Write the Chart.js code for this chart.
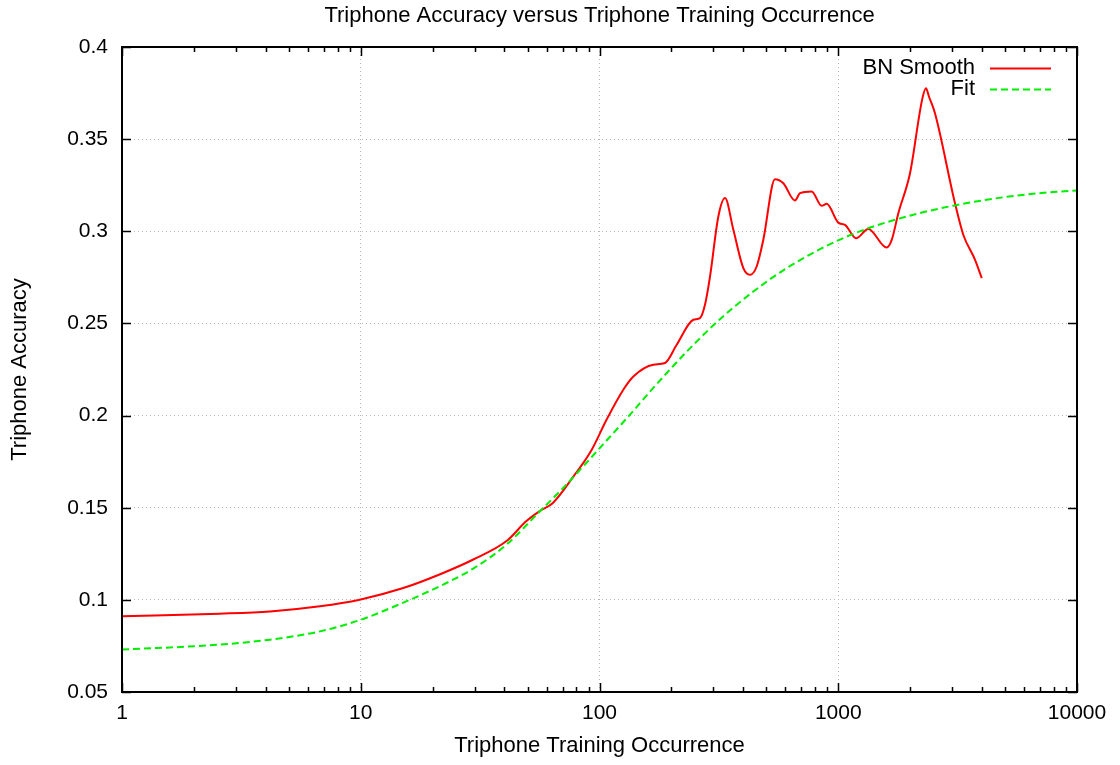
<!DOCTYPE html>
<html>
<head>
<meta charset="utf-8">
<script src="https://cdn.jsdelivr.net/npm/chart.js@4.4.1/dist/chart.umd.min.js"></script>
<style>
  html, body { margin: 0; padding: 0; background: #fff; }
  #wrap { width: 1120px; height: 765px; }
</style>
</head>
<body>
<div id="wrap"><canvas id="chart" width="1120" height="765"></canvas></div>
<script>
// Smoothed accuracy by training occurrence count
const smoothX = [1, 2.57, 4.17, 6.75, 9.9, 15.07, 21.5, 29.6, 40.8, 49.3, 56.3, 63.8, 77.8, 92.8, 107, 125.8, 138.6, 168.1, 188, 210.5, 247.2, 263.6, 276.6, 290.3, 314.6, 335.6, 363.6, 400.4, 426.9, 455.3, 485.3, 543.3, 588.8, 658.9, 691.4, 773.8, 852.1, 894.3, 1000, 1067, 1187, 1336, 1595, 1675, 1785, 1998, 2250, 2331, 2400, 2542, 3083, 3342, 3741, 3990];
const smoothY = [0.0911, 0.0925, 0.0937, 0.0965, 0.1001, 0.1064, 0.1139, 0.1219, 0.1319, 0.1426, 0.1482, 0.1526, 0.167, 0.1815, 0.1977, 0.214, 0.2212, 0.2276, 0.2285, 0.2384, 0.2520, 0.2529, 0.2601, 0.2754, 0.308, 0.318, 0.3008, 0.280, 0.2764, 0.2809, 0.2953, 0.3283, 0.3261, 0.3167, 0.3207, 0.3216, 0.3138, 0.3149, 0.3047, 0.3035, 0.2962, 0.3013, 0.2912, 0.2953, 0.3098, 0.3315, 0.372, 0.3776, 0.373, 0.364, 0.3152, 0.298, 0.2845, 0.2746];

// Fitted curve
const fitX = [1, 2.57, 4.17, 6.75, 9.9, 15.07, 21.5, 29.6, 40.8, 56.3, 68.3, 82.8, 99.8, 130, 168, 197.4, 231.9, 319.6, 440.9, 608, 838.8, 1156, 1595, 2200, 3034, 4184, 5768, 7957, 10000];
const fitY = [0.0730, 0.0757, 0.0784, 0.0829, 0.0890, 0.0985, 0.1075, 0.1170, 0.1300, 0.1481, 0.1589, 0.1705, 0.1821, 0.1985, 0.2150, 0.2250, 0.2347, 0.2523, 0.2673, 0.2800, 0.2903, 0.2986, 0.3049, 0.3099, 0.3139, 0.3171, 0.3196, 0.3213, 0.3222];

const xTicks = [1, 10, 100, 1000, 10000];
const yMin = 0.05, yMax = 0.4, yStep = 0.05;

const titleText = "Triphone Accuracy versus Triphone Training Occurrence";
const xTitle = "Triphone Training Occurrence";
const yTitle = "Triphone Accuracy";
const seriesNames = ["BN Smooth", "Fit"];

const FONT = "'Liberation Sans', Arial, Helvetica, sans-serif";
Chart.defaults.font.family = FONT;
Chart.defaults.font.size = 21;
Chart.defaults.color = "#000";

const toPoints = (xs, ys) => xs.map((x, i) => ({ x, y: ys[i] }));

// frame with inward ticks on all four sides (minor ticks only along x)
const framePlugin = {
  id: "frame",
  afterDatasetsDraw(chart) {
    const { ctx, chartArea: a, scales: { x, y } } = chart;
    ctx.save();
    ctx.strokeStyle = "#000";
    ctx.lineWidth = 1.5;
    ctx.beginPath();
    for (let d = 1; d < 10000; d *= 10) {
      for (let m = 1; m <= 10; m++) {
        const px = Math.round(x.getPixelForValue(d * m)) + 0.5;
        const len = (m === 1 || m === 10) ? 9 : 5;
        ctx.moveTo(px, a.bottom); ctx.lineTo(px, a.bottom - len);
        ctx.moveTo(px, a.top); ctx.lineTo(px, a.top + len);
      }
    }
    for (let v = yMin; v <= yMax + 1e-9; v += yStep) {
      const py = Math.round(y.getPixelForValue(v)) + 0.5;
      ctx.moveTo(a.left, py); ctx.lineTo(a.left + 9, py);
      ctx.moveTo(a.right, py); ctx.lineTo(a.right - 9, py);
    }
    ctx.stroke();
    ctx.lineWidth = 2;
    ctx.strokeRect(a.left, a.top, a.right - a.left, a.bottom - a.top);

    // key in the upper right corner
    ctx.font = "22px " + FONT;
    ctx.textAlign = "right";
    ctx.textBaseline = "middle";
    chart.data.datasets.forEach((ds, i) => {
      const ly = 68 + i * 21;
      ctx.fillStyle = "#000";
      ctx.fillText(ds.label, 975, ly);
      ctx.strokeStyle = ds.borderColor;
      ctx.lineWidth = ds.borderWidth;
      ctx.setLineDash(ds.borderDash || []);
      ctx.beginPath();
      ctx.moveTo(990, ly + 0.5); ctx.lineTo(1051, ly + 0.5);
      ctx.stroke();
    });
    ctx.restore();
  },
  afterDraw(chart) {
    const { ctx, chartArea: a } = chart;
    ctx.save();
    ctx.font = "22px " + FONT;
    ctx.fillStyle = "#000";
    ctx.textAlign = "center";
    ctx.textBaseline = "middle";
    ctx.fillText(titleText, (a.left + a.right) / 2, 16);
    ctx.restore();
  }
};

new Chart(document.getElementById("chart"), {
  type: "line",
  data: {
    datasets: [
      {
        label: seriesNames[0],
        data: toPoints(smoothX, smoothY),
        borderColor: "#ff0000",
        borderWidth: 2,
        pointRadius: 0,
        cubicInterpolationMode: "monotone",
        order: 1
      },
      {
        label: seriesNames[1],
        data: toPoints(fitX, fitY),
        borderColor: "#00ee00",
        borderWidth: 2,
        borderDash: [7, 4],
        pointRadius: 0,
        cubicInterpolationMode: "monotone",
        order: 0
      }
    ]
  },
  options: {
    responsive: false,
    animation: false,
    events: [],
    layout: { padding: { top: 47, right: 43, left: 0, bottom: 0 } },
    plugins: { legend: { display: false }, tooltip: { enabled: false }, title: { display: false } },
    scales: {
      x: {
        type: "logarithmic",
        min: 1,
        max: 10000,
        afterBuildTicks: (axis) => { axis.ticks = xTicks.map(v => ({ value: v })); },
        afterFit: (scale) => { scale.height = 73; },
        ticks: { padding: 9, maxRotation: 0, autoSkip: false, callback: (v) => String(v) },
        grid: { color: "#b8b8b8", lineWidth: 1, drawTicks: false },
        border: { display: false, dash: [1, 3] },
        title: { display: true, text: xTitle, font: { size: 22 }, padding: { top: 0, bottom: 6 } }
      },
      y: {
        min: yMin,
        max: yMax,
        ticks: { stepSize: yStep, padding: 14, callback: (v) => String(Number(v.toFixed(2))) },
        afterFit: (scale) => { scale.width = 122; },
        grid: { color: "#b8b8b8", lineWidth: 1, drawTicks: false },
        border: { display: false, dash: [1, 3] },
        title: { display: true, text: yTitle, font: { size: 22 }, padding: { top: 7, bottom: 0 } }
      }
    }
  },
  plugins: [framePlugin]
});
</script>
</body>
</html>
